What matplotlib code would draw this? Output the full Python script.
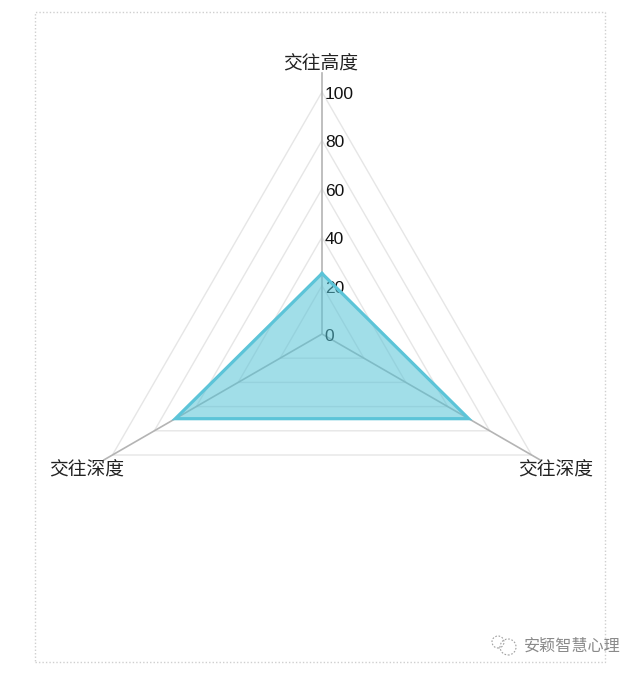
import numpy as np
import matplotlib
matplotlib.use('Agg')
import matplotlib.pyplot as plt
from matplotlib.patches import Rectangle, Circle

plt.rcParams['font.family'] = ['Liberation Sans', 'Noto Sans CJK SC', 'DejaVu Sans']

W, H = 640, 673

categories = ['交往高度', '交往深度', '交往深度']
values = [25, 70, 70]
ticks = [0, 20, 40, 60, 80, 100]
watermark = '安颖智慧心理'

angles = np.radians([90, -30, 210])
RMAX = 110
SPOKE_ENDS = [108, 104, 104]
PX_PER_UNIT = 2.42

cx, cy = 322, 334
side = RMAX * PX_PER_UNIT * 2


def fx(x):
    return x / W


def fy(y):
    return 1 - y / H


fig = plt.figure(figsize=(W / 100, H / 100), dpi=100, facecolor='white')
ax = fig.add_axes([fx(cx - side / 2), fy(cy + side / 2), side / W, side / H],
                  projection='polar')
ax.set_ylim(0, RMAX)
ax.set_axis_off()
ax.patch.set_alpha(0)

closed = np.append(angles, angles[0])

# grid triangles
for t in ticks[1:]:
    ax.plot(closed, [t] * 4, color='#e6e6e6', lw=1.0, zorder=1, clip_on=False)

# spokes
for a, end in zip(angles, SPOKE_ENDS):
    ax.plot([a, a], [0, end], color='#b4b4b4', lw=1.2, zorder=2, clip_on=False)

# radial labels
for t in ticks:
    ax.annotate(str(t), (angles[0], t), xytext=(2, -1.8),
                textcoords='offset points', ha='left', va='center',
                fontsize=12.5, color='#111111', zorder=3)

# data
vals = values + values[:1]
ax.fill(closed, vals, color='#55c3d6', alpha=0.55, lw=0, zorder=4)
ax.plot(closed, vals, color='#5cc4d8', lw=2.3, zorder=5, solid_joinstyle='miter')

# category labels
fig.text(fx(321), fy(64), categories[0], ha='center', va='center',
         fontsize=13.5, color='#222222')
fig.text(fx(556), fy(470.5), categories[1], ha='center', va='center',
         fontsize=13.5, color='#222222')
fig.text(fx(87), fy(470.5), categories[2], ha='center', va='center',
         fontsize=13.5, color='#222222')

# dotted frame
fig.add_artist(Rectangle((fx(35), fy(662)), 570 / W, 650 / H,
                         transform=fig.transFigure, fill=False,
                         edgecolor='#cfcfcf', lw=1.0, ls=(0, (1, 1.5))))

# watermark
for x, y, r in [(498, 642, 6), (508, 647, 8)]:
    fig.add_artist(Circle((x, H - y), r, transform=None, fill=False,
                          edgecolor='#a0a0a0', lw=0.8, ls=(0, (1.5, 1.5))))
fig.text(fx(572), fy(646), watermark, ha='center', va='center', fontsize=11.6,
         color='#8a8a8a')

fig.savefig('out.png', dpi=100, facecolor='white')
